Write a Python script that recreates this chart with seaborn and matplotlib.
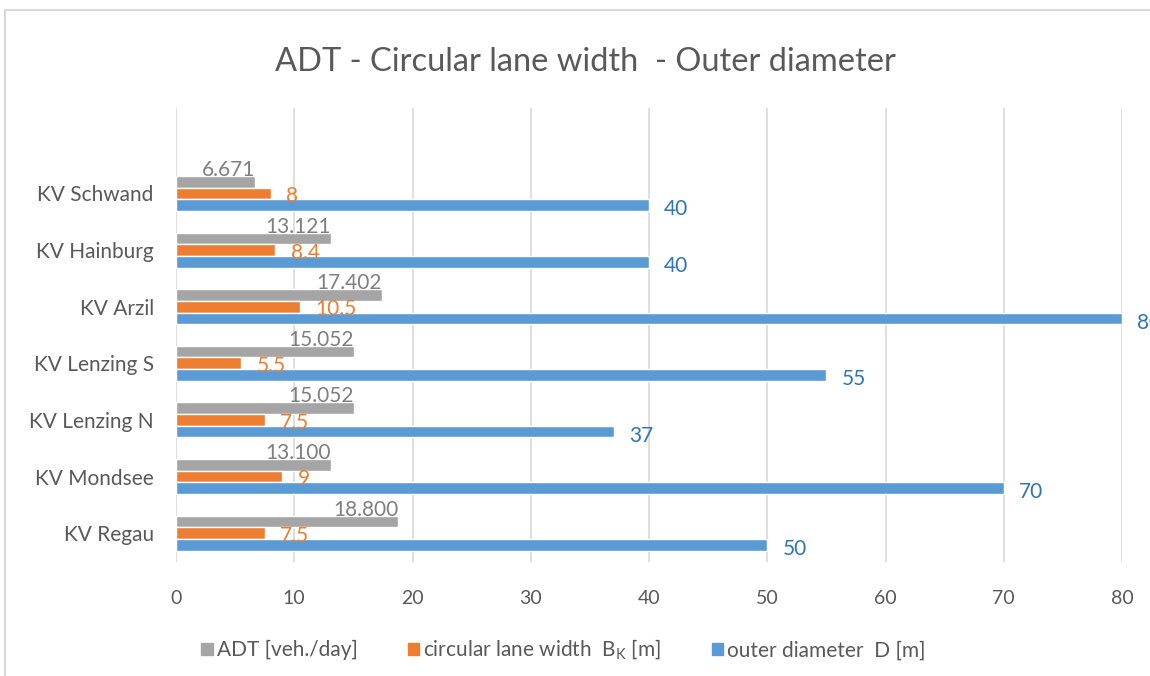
import numpy as np
import pandas as pd
import matplotlib.pyplot as plt
import matplotlib.patches as mpatches
import seaborn as sns

# data
places = ['KV Schwand', 'KV Hainburg', 'KV Arzil', 'KV Lenzing S',
          'KV Lenzing N', 'KV Mondsee', 'KV Regau']
adt = [6.671, 13.121, 17.402, 15.052, 15.052, 13.100, 18.800]      # ADT in 1000 veh./day
lane_width = [8, 8.4, 10.5, 5.5, 7.5, 9, 7.5]                       # B_K [m]
outer_diam = [40, 40, 80, 55, 37, 70, 50]                           # D [m]
series = ['ADT [veh./day]', 'circular lane width  B$_\\mathrm{K}$ [m]', 'outer diameter  D [m]']
x_ticks = [0, 10, 20, 30, 40, 50, 60, 70, 80]

bar_cols = ['#A5A5A5', '#ED7D31', '#5B9BD5']
lab_cols = ['#7F7F7F', '#ED7D31', '#2E75B6']
txt_col = '#595959'

df = pd.DataFrame({'place': places, series[0]: adt, series[1]: lane_width, series[2]: outer_diam})
df = df.melt(id_vars='place', var_name='series', value_name='value')

sns.set_theme(style='white')
plt.rcParams['font.family'] = ['Lato', 'DejaVu Sans']
plt.rcParams['mathtext.fontset'] = 'custom'
plt.rcParams['mathtext.rm'] = 'Lato'

fig = plt.figure(figsize=(11.5, 6.76), dpi=100)
ax = fig.add_axes([176/1150, 1-562/676, (1122-176)/1150, (562-108)/676])

sns.barplot(data=df, y='place', x='value', hue='series', order=places, hue_order=series,
            palette=bar_cols, orient='h', width=0.62, saturation=1, ax=ax, legend=False)

ax.set_xlim(0, 80)
ax.set_ylim(6.51, -1.51)
ax.set_xticks(x_ticks)
ax.set_xlabel('')
ax.set_ylabel('')
ax.grid(axis='x', color='#D9D9D9', linewidth=1.2)
ax.set_axisbelow(True)
for s in ax.spines.values():
    s.set_visible(False)
ax.tick_params(axis='x', length=0, pad=20, labelsize=14, labelcolor=txt_col)
ax.tick_params(axis='y', length=0, pad=16, labelsize=15, labelcolor=txt_col)

# data labels
for k, cont in enumerate(ax.containers):
    for bar in cont:
        v = bar.get_width()
        yc = bar.get_y() + bar.get_height() / 2
        if k == 0:
            ax.annotate(f'{v:.3f}', (v, bar.get_y()), xytext=(0, 0), textcoords='offset points',
                        ha='right', va='baseline', fontsize=15, color=lab_cols[k])
        else:
            ax.annotate(f'{v:g}', (v, yc), xytext=(11, -2 if k == 1 else -3), textcoords='offset points',
                        ha='left', va='center', fontsize=15, color=lab_cols[k],
                        annotation_clip=False)

fig.text(0.509, 1-62/676, 'ADT - Circular lane width  - Outer diameter', ha='center', va='center',
         fontsize=23.5, color=txt_col)

handles = [mpatches.Patch(color=c) for c in bar_cols]
fig.legend(handles, series, loc='center', bbox_to_anchor=(0.49, 1-650/676), ncol=3, frameon=False,
           fontsize=15, labelcolor=txt_col, handlelength=0.55, handleheight=0.55,
           handletextpad=0.2, columnspacing=2.4)

# chart border
fig.add_artist(mpatches.Rectangle((5/1150, -0.1), 1.2, 1-10/676+0.1, transform=fig.transFigure,
                                  fill=False, edgecolor='#D9D9D9', linewidth=1.5))

fig.savefig('out.png', dpi=100)
